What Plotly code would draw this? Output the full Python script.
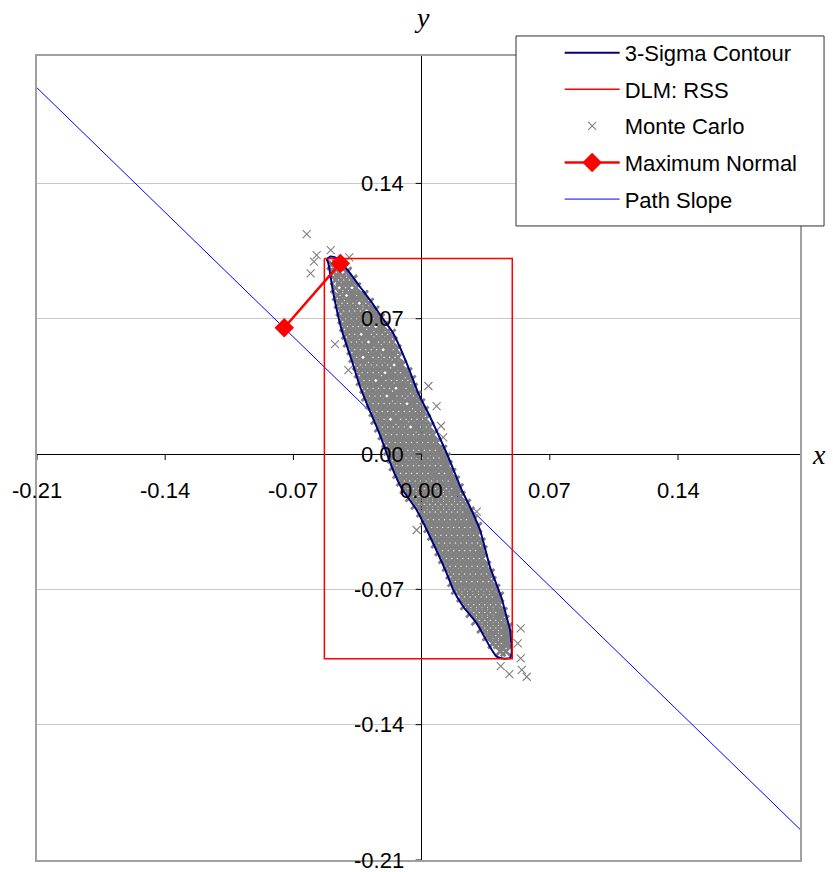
import plotly.graph_objects as go

# ---------------- data ----------------
x_ticks = [-0.21, -0.14, -0.07, 0.00, 0.07, 0.14]
y_ticks = [0.14, 0.07, 0.00, -0.07, -0.14, -0.21]
x_range = [-0.21, 0.2066]
y_range = [-0.21, 0.2059]

# 3-Sigma contour (clockwise from the top tip)
contour_x = [-0.0517, -0.0495, -0.0467, -0.0440, -0.0391, -0.0336, -0.0282, -0.0222,
             -0.0156, -0.0081, -0.0018, 0.0046, 0.0137, 0.0182, 0.0219, 0.0264,
             0.0319, 0.0373, 0.0437, 0.0461, 0.0483, 0.0492, 0.0483, 0.0444,
             0.0410, 0.0373, 0.0301, 0.0228, 0.0173, 0.0137, 0.0046, -0.0027,
             -0.0109, -0.0163, -0.0227, -0.0300, -0.0336, -0.0382, -0.0436, -0.0482,
             -0.0509, -0.0517]
contour_y = [0.1009, 0.1022, 0.1014, 0.0988, 0.0936, 0.0864, 0.0797, 0.0714,
             0.0626, 0.0469, 0.0314, 0.0193, 0.0004, -0.0100, -0.0186, -0.0273,
             -0.0393, -0.0583, -0.0746, -0.0833, -0.0910, -0.1023, -0.1055, -0.1058,
             -0.1048, -0.0997, -0.0876, -0.0790, -0.0703, -0.0617, -0.0428, -0.0290,
             -0.0177, -0.0066, 0.0098, 0.0262, 0.0348, 0.0486, 0.0641, 0.0831,
             0.0986, 0.1009]

# DLM: RSS box limits
rss_x = [-0.0531, 0.0495]
rss_y = [-0.1059, 0.1012]

# Maximum Normal
maxn_x = [-0.0750, -0.0444]
maxn_y = [0.0653, 0.0986]

# Path Slope
path_x = [-0.2155, 0.2132]
path_y = [0.1945, -0.2002]

# Monte Carlo: isolated points
mc_out_x = [-0.0627, -0.0496, -0.0573, -0.0588, -0.0606, -0.0395, -0.0473, -0.0400,
            0.0037, 0.0082, 0.0106, 0.0118, -0.0027, 0.0301, 0.0373, 0.0541,
            0.0525, 0.0541, 0.0432, 0.0479, 0.0547, 0.0574]
mc_out_y = [0.1138, 0.1055, 0.1029, 0.0995, 0.0935, 0.1017, 0.0569, 0.0434,
            0.0352, 0.0248, 0.0145, 0.0086, -0.0393, -0.0298, -0.0945, -0.0902,
            -0.0979, -0.1057, -0.1097, -0.1139, -0.1117, -0.1152]

# Monte Carlo: dense core, estimated row by row (y, x-values)
mc_core_rows = [
    (0.098, [-0.049, -0.046]),
    (0.094, [-0.048, -0.045, -0.041]),
    (0.090, [-0.047, -0.044, -0.041, -0.038]),
    (0.086, [-0.047, -0.043, -0.040, -0.036]),
    (0.082, [-0.046, -0.043, -0.039, -0.037, -0.034, -0.032]),
    (0.078, [-0.045, -0.042, -0.039, -0.036, -0.032, -0.029]),
    (0.074, [-0.044, -0.041, -0.038, -0.035, -0.032, -0.028, -0.026]),
    (0.070, [-0.043, -0.040, -0.037, -0.034, -0.030, -0.028, -0.025, -0.023]),
    (0.066, [-0.042, -0.039, -0.036, -0.033, -0.030, -0.027, -0.023, -0.021]),
    (0.062, [-0.041, -0.038, -0.035, -0.031, -0.029, -0.026, -0.023, -0.020, -0.017]),
    (0.058, [-0.040, -0.037, -0.034, -0.031, -0.027, -0.025, -0.022, -0.019, -0.016]),
    (0.054, [-0.038, -0.035, -0.032, -0.029, -0.026, -0.023, -0.019, -0.017, -0.014]),
    (0.050, [-0.037, -0.034, -0.030, -0.028, -0.025, -0.022, -0.019, -0.016, -0.013]),
    (0.046, [-0.035, -0.032, -0.029, -0.026, -0.023, -0.020, -0.017, -0.013, -0.011]),
    (0.042, [-0.034, -0.031, -0.028, -0.025, -0.022, -0.018, -0.016, -0.013, -0.010, -0.008]),
    (0.038, [-0.033, -0.030, -0.027, -0.023, -0.021, -0.018, -0.015, -0.012, -0.009, -0.006]),
    (0.034, [-0.031, -0.028, -0.025, -0.022, -0.019, -0.016, -0.012, -0.010, -0.007, -0.005]),
    (0.030, [-0.030, -0.027, -0.024, -0.021, -0.017, -0.015, -0.012, -0.009, -0.006, -0.003]),
    (0.026, [-0.028, -0.025, -0.022, -0.019, -0.016, -0.013, -0.010, -0.006, -0.004, -0.001]),
    (0.022, [-0.026, -0.023, -0.020, -0.017, -0.014, -0.011, -0.008, -0.005, -0.002, 0.001]),
    (0.018, [-0.025, -0.022, -0.019, -0.015, -0.013, -0.010, -0.007, -0.004, -0.001, 0.002]),
    (0.014, [-0.023, -0.020, -0.017, -0.014, -0.011, -0.008, -0.004, -0.002, 0.001, 0.004]),
    (0.010, [-0.021, -0.018, -0.015, -0.012, -0.009, -0.006, -0.003, 0.000, 0.003, 0.006]),
    (0.006, [-0.019, -0.016, -0.013, -0.010, -0.007, -0.004, -0.001, 0.002, 0.005, 0.008]),
    (0.002, [-0.018, -0.015, -0.012, -0.009, -0.006, -0.003, 0.000, 0.003, 0.006, 0.009, 0.011]),
    (-0.002, [-0.016, -0.013, -0.010, -0.007, -0.004, -0.001, 0.002, 0.005, 0.008, 0.011, 0.013]),
    (-0.006, [-0.015, -0.012, -0.009, -0.006, -0.003, 0.000, 0.003, 0.006, 0.009, 0.012, 0.014]),
    (-0.010, [-0.013, -0.010, -0.007, -0.004, -0.001, 0.002, 0.005, 0.008, 0.011, 0.014, 0.016]),
    (-0.014, [-0.011, -0.008, -0.005, -0.002, 0.001, 0.004, 0.007, 0.010, 0.013, 0.016, 0.018]),
    (-0.018, [-0.009, -0.006, -0.003, 0.000, 0.003, 0.006, 0.009, 0.012, 0.015, 0.018, 0.020]),
    (-0.022, [-0.006, -0.003, 0.000, 0.003, 0.006, 0.009, 0.012, 0.015, 0.018, 0.021]),
    (-0.026, [-0.003, 0.000, 0.003, 0.006, 0.009, 0.012, 0.015, 0.018, 0.021, 0.024]),
    (-0.030, [0.000, 0.003, 0.006, 0.009, 0.012, 0.015, 0.018, 0.021, 0.024, 0.026]),
    (-0.034, [0.002, 0.005, 0.008, 0.011, 0.014, 0.017, 0.020, 0.023, 0.026, 0.028]),
    (-0.038, [0.004, 0.007, 0.010, 0.013, 0.016, 0.019, 0.022, 0.025, 0.028, 0.030]),
    (-0.042, [0.006, 0.009, 0.012, 0.015, 0.018, 0.021, 0.024, 0.027, 0.030]),
    (-0.046, [0.008, 0.011, 0.014, 0.017, 0.020, 0.023, 0.026, 0.029, 0.032]),
    (-0.050, [0.010, 0.013, 0.016, 0.019, 0.022, 0.025, 0.028, 0.031, 0.033]),
    (-0.054, [0.012, 0.015, 0.018, 0.021, 0.024, 0.027, 0.030, 0.033]),
    (-0.058, [0.014, 0.017, 0.020, 0.023, 0.026, 0.029, 0.032, 0.035]),
    (-0.062, [0.016, 0.019, 0.022, 0.025, 0.028, 0.031, 0.034, 0.037]),
    (-0.066, [0.017, 0.020, 0.023, 0.026, 0.029, 0.032, 0.035, 0.038]),
    (-0.070, [0.019, 0.022, 0.025, 0.028, 0.031, 0.034, 0.037, 0.040]),
    (-0.074, [0.022, 0.025, 0.028, 0.031, 0.034, 0.037, 0.040, 0.042]),
    (-0.078, [0.024, 0.027, 0.030, 0.033, 0.036, 0.039, 0.042]),
    (-0.082, [0.027, 0.030, 0.033, 0.036, 0.039, 0.042, 0.044]),
    (-0.086, [0.030, 0.033, 0.036, 0.039, 0.042, 0.045]),
    (-0.090, [0.033, 0.036, 0.039, 0.042, 0.045, 0.047]),
    (-0.094, [0.036, 0.039, 0.042, 0.045, 0.047]),
    (-0.098, [0.039, 0.042, 0.045, 0.047]),
    (-0.102, [0.043, 0.046]),
]

# ---------------- build ----------------
core_x, core_y = [], []
for yv, xs in mc_core_rows:
    core_x.extend(xs)
    core_y.extend([yv] * len(xs))

box_x = [rss_x[0], rss_x[1], rss_x[1], rss_x[0], rss_x[0]]
box_y = [rss_y[1], rss_y[1], rss_y[0], rss_y[0], rss_y[1]]

FONT = "Liberation Sans, Arial, sans-serif"
SERIF = "Liberation Serif, Times New Roman, serif"
GRAY = "#808080"
fig = go.Figure()

fig.add_trace(go.Scatter(x=path_x, y=path_y, mode="lines", name="Path Slope",
                         line=dict(color="#0000FF", width=1),
                         legendrank=5, legendgroup="e"))
fig.add_trace(go.Scatter(x=core_x, y=core_y, mode="markers", name="Monte Carlo",
                         marker=dict(symbol="x-thin", size=10, color=GRAY,
                                     line=dict(color=GRAY, width=2.8)),
                         showlegend=False, legendrank=3, legendgroup="c"))
fig.add_trace(go.Scatter(x=mc_out_x, y=mc_out_y, mode="markers", name="Monte Carlo",
                         marker=dict(symbol="x-thin", size=8, color=GRAY,
                                     line=dict(color=GRAY, width=1.1)),
                         legendrank=3, legendgroup="c"))
fig.add_trace(go.Scatter(x=contour_x, y=contour_y, mode="lines", name="3-Sigma Contour",
                         line=dict(color="#000080", width=2, shape="spline", smoothing=0.5),
                         legendrank=1, legendgroup="a"))
fig.add_trace(go.Scatter(x=box_x, y=box_y, mode="lines", name="DLM: RSS",
                         line=dict(color="#FF0000", width=1.5),
                         legendrank=2, legendgroup="b"))
fig.add_trace(go.Scatter(x=maxn_x, y=maxn_y, mode="lines+markers", name="Maximum Normal",
                         line=dict(color="#FF0000", width=2.5),
                         marker=dict(symbol="diamond", size=15, color="#FF0000"),
                         legendrank=4, legendgroup="d"))

shapes = []
# tick marks on the zero axes
for v in x_ticks:
    shapes.append(dict(type="line", xref="x", yref="y", x0=v, x1=v,
                       ysizemode="pixel", yanchor=0, y0=0, y1=-6,
                       line=dict(color="black", width=1)))
for v in y_ticks:
    shapes.append(dict(type="line", xref="x", yref="y", y0=v, y1=v,
                       xsizemode="pixel", xanchor=0, x0=0, x1=-6,
                       line=dict(color="black", width=1)))
# legend frame
shapes.append(dict(type="rect", xref="paper", yref="paper",
                   x0=0.6278, x1=1.0315, y0=0.7886, y1=1.0249,
                   line=dict(color="#303030", width=1), fillcolor="white", layer="above"))

annotations = []
for v in x_ticks:
    annotations.append(dict(x=v, y=0, xref="x", yref="y", text=f"{v:.2f}",
                            showarrow=False, yanchor="middle", xanchor="center",
                            yshift=-36, font=dict(family=FONT, size=22, color="black")))
for v in y_ticks:
    annotations.append(dict(x=0, y=v, xref="x", yref="y", text=f"{v:.2f}",
                            showarrow=False, yanchor="middle", xanchor="right",
                            xshift=-16, font=dict(family=FONT, size=22, color="black")))
annotations.append(dict(x=0, y=1, xref="x", yref="paper", text="<i>y</i>", showarrow=False,
                        xanchor="center", yanchor="bottom", yshift=21,
                        font=dict(family=SERIF, size=28, color="black")))
annotations.append(dict(x=1, y=0, xref="paper", yref="y", text="<i>x</i>", showarrow=False,
                        xanchor="left", yanchor="middle", xshift=10,
                        font=dict(family=SERIF, size=28, color="black")))

fig.update_layout(
    width=833, height=872,
    margin=dict(l=37, r=33, t=56, b=12),
    plot_bgcolor="white", paper_bgcolor="white",
    font=dict(family=FONT, size=22, color="black"),
    shapes=shapes, annotations=annotations,
    legend=dict(x=0.685, y=1.03, xanchor="left", yanchor="top",
                bgcolor="rgba(0,0,0,0)", borderwidth=0,
                font=dict(family=FONT, size=22, color="black"),
                tracegroupgap=5, traceorder="grouped", itemwidth=55),
    showlegend=True,
)
fig.update_xaxes(range=x_range, showgrid=False, zeroline=True, zerolinecolor="black",
                 zerolinewidth=1, showticklabels=False, ticks="",
                 showline=True, linecolor="#a0a0a0", linewidth=1.5, mirror=True)
fig.update_yaxes(range=y_range, tickvals=y_ticks, showgrid=True, gridcolor="#c8c8c8",
                 gridwidth=1, zeroline=True, zerolinecolor="black", zerolinewidth=1,
                 showticklabels=False, ticks="",
                 showline=True, linecolor="#a0a0a0", linewidth=1.5, mirror=True)

fig.write_html("out.html", config={"displayModeBar": False},
               post_script="document.body.style.margin='0';document.body.style.padding='0';")
